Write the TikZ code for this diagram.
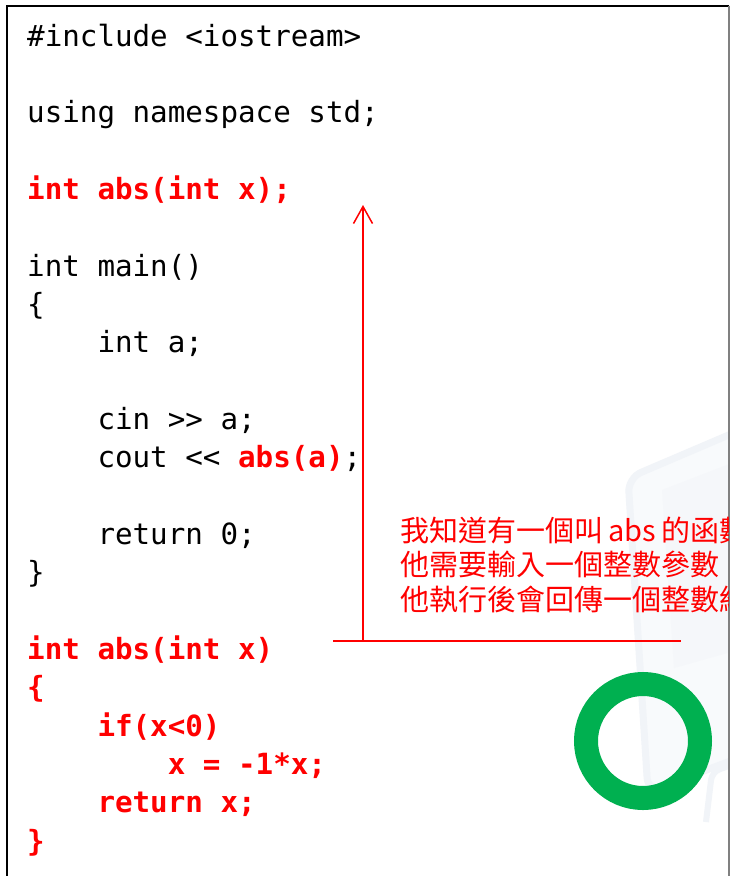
\documentclass[tikz,border=0pt]{standalone}
\usepackage{fontspec}
\usetikzlibrary{arrows.meta}
\newfontfamily\codefont{DejaVu Sans Mono}
\newfontfamily\cjkfont{Noto Sans CJK TC}
\definecolor{codered}{RGB}{255,0,0}
\definecolor{okgreen}{RGB}{0,176,80}
\definecolor{wmA}{RGB}{241,244,248}
\definecolor{wmB}{RGB}{248,250,252}
\tikzset{
  code/.style={anchor=base west, inner sep=0pt, font=\codefont\fontsize{29.2pt}{35pt}\selectfont},
  hot/.style={code, text=codered, font=\codefont\bfseries\fontsize{29.2pt}{35pt}\selectfont},
  note/.style={anchor=base west, inner sep=0pt, text=codered, font=\cjkfont\fontsize{29pt}{34pt}\selectfont},
  redline/.style={draw=codered, line width=1.5pt},
}
\begin{document}
\begin{tikzpicture}[x=1pt,y=-1pt]
\useasboundingbox (0,0) rectangle (730,876);
\fill[white] (0,0) rectangle (730,876);
% faint watermark
\begin{scope}
\clip (8,6) rectangle (728,876);
\fill[wmB, rounded corners=14pt] (628,478) -- (745,428) -- (765,748) -- (648,792) -- cycle;
\draw[wmA, line width=7pt, rounded corners=14pt] (628,478) -- (745,428) -- (765,748) -- (648,792) -- cycle;
\fill[wmA!70!white] (662,490) -- (745,458) -- (745,648) -- (674,668) -- cycle;
\draw[wmA, line width=6pt, rounded corners=8pt] (706,822) -- (712,772) -- (745,760);
\end{scope}
% frame
\draw[black, line width=2pt] (7,877) -- (7,5.5) -- (729,5.5);
\draw[gray, line width=1.2pt] (729,5.5) -- (729,877);
% code
\node[code] (l0) at (27,46) {\#include <iostream>};
\node[code] (l2) at (27,122.7) {using namespace std;};
\node[hot] (l4) at (27,199.3) {int abs(int x);};
\node[code] (l6) at (27,276) {int main()};
\node[code] (l7) at (27,314.3) {\{};
\node[code] (l8) at (97.3,352.6) {int a;};
\node[code] (l10) at (97.3,429.3) {cin {>}{>} a;};
\node[code] (l11) at (97.3,467.6) {cout {<}{<} \textcolor{codered}{\bfseries abs(a)};};
\node[code] (l13) at (97.3,544.3) {return 0;};
\node[code] (l14) at (27,582.6) {\}};
\node[hot] (l16) at (27,659.3) {int abs(int x)};
\node[hot] (l17) at (27,697.6) {\{};
\node[hot] (l18) at (97.3,736) {if(x<0)};
\node[hot] (l19) at (167.6,774.3) {x = -1*x;};
\node[hot] (l20) at (97.3,812.6) {return x;};
\node[hot] (l21) at (27,851) {\}};
% connector
\coordinate (hl) at (333,641);
\coordinate (hr) at (681,641);
\coordinate (vb) at (363,641);
\coordinate (vt) at (363,205);
\draw[redline] (hl) -- (hr);
\draw[redline, -{Straight Barb[length=17pt,width=19pt]}] (vb) -- (vt);
% note
\begin{scope}
\clip (8,6) rectangle (728,876);
\node[note] (n1) at (400,541) {我知道有一個叫\hspace{5pt}abs\hspace{5pt}的函數};
\node[note] (n2) at (400,575.5) {他需要輸入一個整數參數};
\node[note] (n3) at (400,610) {他執行後會回傳一個整數結果};
\end{scope}
% ring
\coordinate (ringc) at (643,741);
\draw[okgreen, line width=24pt] (ringc) circle (57pt);
\end{tikzpicture}
\end{document}
